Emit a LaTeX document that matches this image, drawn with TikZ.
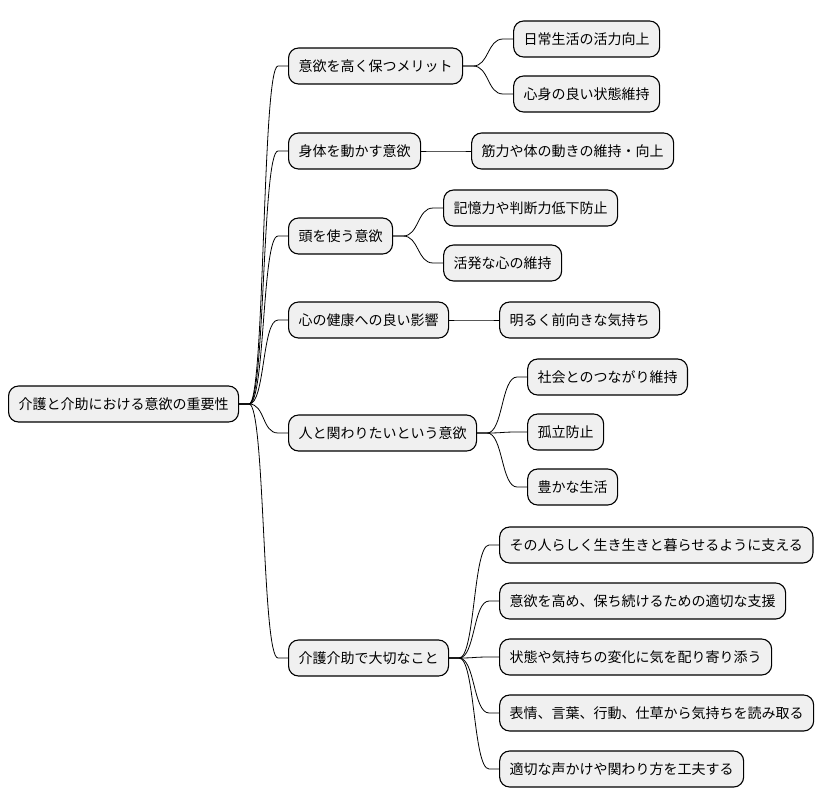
\documentclass[tikz,border=0pt]{standalone}
\usepackage{fontspec}
\setmainfont{Noto Sans CJK JP}
\usetikzlibrary{positioning,calc}

\tikzset{
  topic/.style={draw,line width=1.1pt,fill=black!6,rounded corners=10pt,
    minimum height=36pt,inner xsep=10pt,anchor=west,
    font=\fontsize{14pt}{17pt}\selectfont},
  branch/.style={to path={-- ++(10pt,0) .. controls +(16pt,0) and ([xshift=-26pt]\tikztotarget)
    .. ([xshift=-10pt]\tikztotarget) -- (\tikztotarget)}}
}

\begin{document}
\begin{tikzpicture}[x=1pt,y=-1pt,line width=0.8pt]
\useasboundingbox[fill=white](0,0)rectangle(824,809);
% root and first level
\node[topic](root)at(8,404){介護と介助における意欲の重要性};
\node[topic](m1)at(288,66){意欲を高く保つメリット};
\node[topic](m2)at(288,151){身体を動かす意欲};
\node[topic](m3)at(288,236){頭を使う意欲};
\node[topic](m4)at(288,320){心の健康への良い影響};
\node[topic](m5)at(288,433){人と関わりたいという意欲};
\node[topic](m6)at(288,658){介護介助で大切なこと};
% second level
\node[topic](m1a)at([xshift=50pt]m1.east|-0,39){日常生活の活力向上};
\node[topic](m1b)at([xshift=50pt]m1.east|-0,94){心身の良い状態維持};
\node[topic](m2a)at([xshift=50pt]m2.east|-0,151){筋力や体の動きの維持・向上};
\node[topic](m3a)at([xshift=50pt]m3.east|-0,208){記憶力や判断力低下防止};
\node[topic](m3b)at([xshift=50pt]m3.east|-0,263){活発な心の維持};
\node[topic](m4a)at([xshift=50pt]m4.east|-0,320){明るく前向きな気持ち};
\node[topic](m5a)at([xshift=50pt]m5.east|-0,377){社会とのつながり維持};
\node[topic](m5b)at([xshift=50pt]m5.east|-0,432){孤立防止};
\node[topic](m5c)at([xshift=50pt]m5.east|-0,487){豊かな生活};
\node[topic](m6a)at([xshift=50pt]m6.east|-0,545){その人らしく生き生きと暮らせるように支える};
\node[topic](m6b)at([xshift=50pt]m6.east|-0,601){意欲を高め、保ち続けるための適切な支援};
\node[topic](m6c)at([xshift=50pt]m6.east|-0,657){状態や気持ちの変化に気を配り寄り添う};
\node[topic](m6d)at([xshift=50pt]m6.east|-0,713){表情、言葉、行動、仕草から気持ちを読み取る};
\node[topic](m6e)at([xshift=50pt]m6.east|-0,769){適切な声かけや関わり方を工夫する};
% connectors
\foreach \k in {m1,m2,m3,m4,m5,m6}
  \draw(root.east)to[branch](\k.west);
\foreach \p/\c in {m1/m1a,m1/m1b,m2/m2a,m3/m3a,m3/m3b,m4/m4a,m5/m5a,m5/m5b,m5/m5c,
  m6/m6a,m6/m6b,m6/m6c,m6/m6d,m6/m6e}
  \draw(\p.east)to[branch](\c.west);
\end{tikzpicture}
\end{document}
